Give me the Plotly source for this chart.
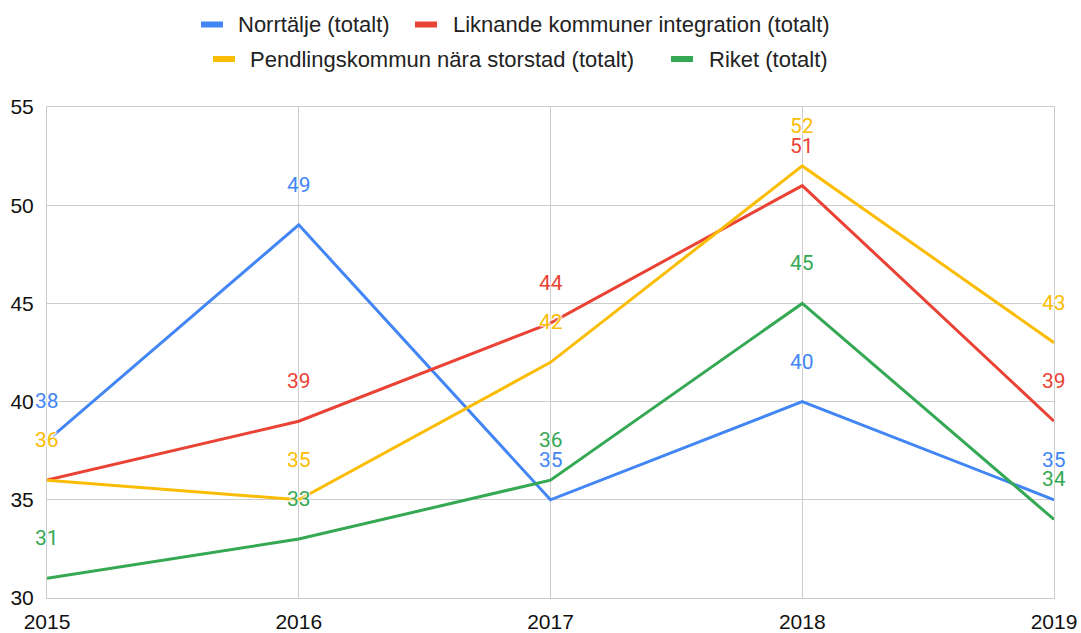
import plotly.graph_objects as go

years = [2015, 2016, 2017, 2018, 2019]
norrtalje = [38, 49, 35, 40, 35]
liknande = [36, 39, 44, 51, 39]
pendling = [36, 35, 42, 52, 43]
riket = [31, 33, 36, 45, 34]

series_names = [
    "Norrtälje (totalt)",
    "Liknande kommuner integration (totalt)",
    "Pendlingskommun nära storstad (totalt)",
    "Riket (totalt)",
]
series_values = [norrtalje, liknande, pendling, riket]
colors = ["#4285F4", "#EA4335", "#FBBC04", "#34A853"]
y_ticks = [30, 35, 40, 45, 50, 55]

W, H = 1081, 633
ML, MR, MT, MB = 47, 27, 107, 35
PW, PH = W - ML - MR, H - MT - MB

def px_x(px):
    return (px - ML) / PW

def px_y(py):
    return (H - MB - py) / PH

LABEL_FONT = "Roboto"
AXIS_FONT = "Liberation Sans, Arial, sans-serif"
FS = 21

fig = go.Figure()
for name, vals, col in zip(series_names, series_values, colors):
    fig.add_trace(go.Scatter(
        x=years, y=vals, mode="lines", name=name,
        line=dict(color=col, width=3), showlegend=False,
        hoverinfo="skip", cliponaxis=False,
    ))

annotations = []
shadow = "0 0 2px white, 0 0 2px white, 0 0 2px white, 0 0 3px white"
for vals, col in zip(series_values, colors):
    for x, v in zip(years, vals):
        annotations.append(dict(
            x=x, y=v, xref="x", yref="y", text=str(v), showarrow=False,
            yshift=40, xanchor="center", yanchor="middle",
            font=dict(family=LABEL_FONT, size=FS, color=col, shadow=shadow),
        ))

# manual legend (two centered rows)
legend_items = [
    (0, 201, 237, 24.5),
    (1, 415, 452, 24.5),
    (2, 213, 249, 59),
    (3, 671, 708, 59),
]
shapes = []
for idx, sx, tx, cy in legend_items:
    shapes.append(dict(
        type="rect", xref="paper", yref="paper",
        x0=px_x(sx), x1=px_x(sx + 22), y0=px_y(cy + 3), y1=px_y(cy - 3),
        fillcolor=colors[idx], line=dict(width=0),
    ))
    annotations.append(dict(
        x=px_x(tx), y=px_y(cy), xref="paper", yref="paper",
        text=series_names[idx], showarrow=False,
        xanchor="left", yanchor="middle", xshift=-1,
        font=dict(family=AXIS_FONT, size=22, color="#222222"),
    ))

fig.update_layout(
    width=W, height=H,
    margin=dict(l=ML, r=MR, t=MT, b=MB, pad=0, autoexpand=False),
    paper_bgcolor="white", plot_bgcolor="white",
    font=dict(family=AXIS_FONT, size=FS, color="#222222"),
    annotations=annotations, shapes=shapes,
    showlegend=False,
)
fig.update_xaxes(
    range=[2015, 2019], tickvals=years, ticktext=[str(y) for y in years],
    showgrid=True, gridcolor="#cccccc", gridwidth=1,
    showline=True, mirror=True, linecolor="#cccccc", linewidth=1,
    zeroline=False, ticks="", ticklabelstandoff=5, automargin=False,
    tickfont=dict(family=AXIS_FONT, size=FS, color="#111111"),
    fixedrange=True,
)
fig.update_yaxes(
    range=[30, 55], tickvals=y_ticks,
    showgrid=True, gridcolor="#cccccc", gridwidth=1,
    showline=True, mirror=True, linecolor="#cccccc", linewidth=1,
    zeroline=False, ticks="", ticklabelstandoff=8, automargin=False,
    tickfont=dict(family=AXIS_FONT, size=FS, color="#111111"),
    fixedrange=True,
)

fig.write_html(
    "out.html",
    config={"displayModeBar": False},
    post_script="document.body.style.margin='0';document.body.style.overflow='hidden';",
)
